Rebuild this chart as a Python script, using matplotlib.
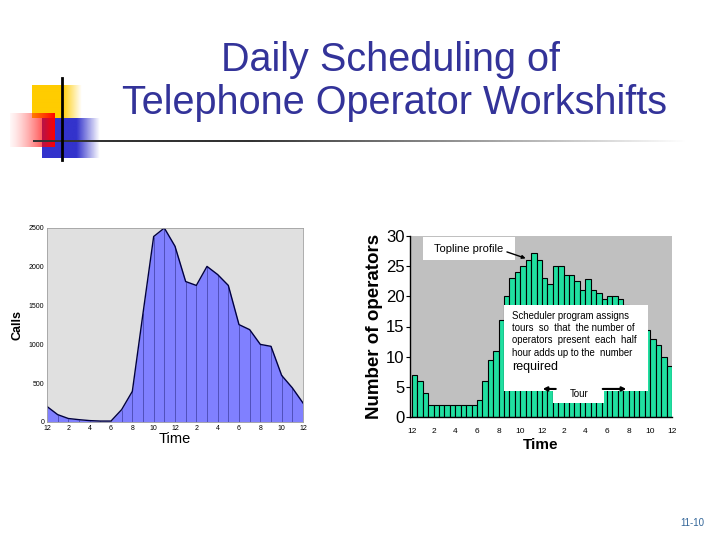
import numpy as np
import matplotlib
matplotlib.use("Agg")
import matplotlib.pyplot as plt
from matplotlib.patches import Rectangle

# left chart: calls per hour (midnight to midnight)
hours = list(range(25))
calls = [200, 95, 45, 30, 18, 12, 12, 160, 395, 1400, 2390, 2500, 2265,
         1810, 1760, 2005, 1900, 1760, 1255, 1190, 1000, 975, 600, 440, 245]
calls_ticks = [0, 500, 1000, 1500, 2000, 2500]

# right chart: operators required each half hour
operators = [7, 6, 4, 2, 2, 2, 2, 2, 2, 2, 2, 2,
             2.8, 6, 9.5, 11, 16, 20, 23, 24, 25, 26, 27.2, 26,
             23, 22, 25, 25, 23.5, 23.5, 22.5, 21, 22.8, 21, 20.5, 19.5,
             20, 20, 19.5, 18.5, 17.5, 16.5, 15.5, 14.5, 13, 12, 10, 8.5]
ops_ticks = [0, 5, 10, 15, 20, 25, 30]

time_labels = ["12", "2", "4", "6", "8", "10", "12", "2", "4", "6", "8", "10", "12"]

title_lines = ["Daily Scheduling of", "Telephone Operator Workshifts"]
box_lines = ["Scheduler program assigns",
             "tours  so  that  the number of",
             "operators  present  each  half",
             "hour adds up to the  number"]

plt.rcParams["font.family"] = ["Liberation Sans", "DejaVu Sans"]

fig = plt.figure(figsize=(7.2, 5.4), dpi=100)
fig.patch.set_facecolor("white")

# background layer in pixel coordinates for the slide decoration
bg = fig.add_axes([0, 0, 1, 1], zorder=0)
bg.set_xlim(0, 720)
bg.set_ylim(540, 0)
bg.axis("off")


def grad_box(ax, rgb, x0, x1, y0, y1, alphas):
    img = np.zeros((1, len(alphas), 4))
    img[0, :, :3] = rgb
    img[0, :, 3] = alphas
    ax.imshow(img, extent=(x0, x1, y1, y0), aspect="auto", interpolation="bilinear")


n = 100
fade = np.clip((1 - np.linspace(0, 1, n)) / 0.4, 0, 1)
grad_box(bg, (1.0, 0.8, 0.0), 32, 82, 85, 118, fade)
grad_box(bg, (0.2, 0.2, 0.8), 42, 100, 118, 158, fade)
grad_box(bg, (1.0, 0.0, 0.0), 10, 55, 113, 147, np.linspace(0.1, 1, n) ** 1.5)
grad_box(bg, (0.2, 0.2, 0.2), 33, 690, 140, 142, np.clip(1.5 * (1 - np.linspace(0, 1, n)), 0, 1))
bg.plot([62, 62], [78, 160], color="black", lw=2)

fig.text(0.542, 1 - 60 / 540, title_lines[0], ha="center", va="center",
         fontsize=28.5, color="#333399")
fig.text(0.548, 1 - 103 / 540, title_lines[1], ha="center", va="center",
         fontsize=28.5, color="#333399")
fig.text(692 / 720, 1 - 523 / 540, "11-10", ha="center", va="center",
         fontsize=7, color="#336699")

# ---- left chart
ax1 = fig.add_axes([47 / 720, 118 / 540, 256 / 720, 194 / 540], zorder=1)
ax1.set_facecolor("#E0E0E0")
ax1.fill_between(hours, calls, color="#8080FF", lw=0)
ax1.vlines(hours[1:-1], 0, calls[1:-1], color="#4848B0", lw=0.6)
ax1.plot(hours, calls, color="#000040", lw=1)
ax1.set_xlim(0, 24)
ax1.set_ylim(0, 2500)
ax1.set_yticks(calls_ticks)
ax1.set_xticks(range(0, 25, 2))
ax1.set_xticklabels(time_labels)
ax1.tick_params(labelsize=5, length=0, pad=2)
for s in ax1.spines.values():
    s.set_color("#A0A0A0")
    s.set_linewidth(0.6)
ax1.set_ylabel("Calls", fontsize=9, fontweight="bold", labelpad=4)
ax1.set_xlabel("Time", fontsize=10.5, labelpad=0)

# ---- right chart
ax2 = fig.add_axes([410 / 720, 123 / 540, 262 / 720, 181 / 540], zorder=1)
ax2.set_facecolor("#C0C0C0")
ax2.bar(np.arange(len(operators)), operators, width=1, align="edge",
        color="#20DFA0", edgecolor="black", lw=0.8)
ax2.set_xlim(-0.35, len(operators))
ax2.set_ylim(0, 30)
ax2.set_yticks(ops_ticks)
ax2.tick_params(axis="y", labelsize=12, length=3, pad=1)
ax2.set_xticks(range(0, 49, 4))
ax2.set_xticklabels(time_labels)
ax2.tick_params(axis="x", labelsize=6, length=0, pad=8)
for side in ["top", "right"]:
    ax2.spines[side].set_visible(False)
ax2.spines["left"].set_linewidth(1)
ax2.spines["bottom"].set_linewidth(1)
ax2.set_ylabel("Number of operators", fontsize=13.5, fontweight="bold", labelpad=2)
ax2.set_xlabel("Time", fontsize=11, fontweight="bold", labelpad=2)

peak = int(np.argmax(operators))
ax2.add_patch(Rectangle((0.05, 0.867), 0.351, 0.127, transform=ax2.transAxes,
                        facecolor="white", edgecolor="none", zorder=5))
ax2.text(0.225, 0.93, "Topline profile", transform=ax2.transAxes, ha="center",
         va="center", fontsize=8, zorder=6)
ax2.annotate("", xy=(peak - 1.0, operators[peak] - 0.9), xycoords="data",
             xytext=(0.37, 0.912), textcoords="axes fraction",
             arrowprops=dict(arrowstyle="-|>", color="black", lw=1,
                             mutation_scale=5, shrinkA=0, shrinkB=0), zorder=7)

ax2.add_patch(Rectangle((0.359, 0.144), 0.549, 0.475, transform=ax2.transAxes,
                        facecolor="white", edgecolor="none", zorder=5))
ax2.add_patch(Rectangle((0.546, 0.077), 0.194, 0.07, transform=ax2.transAxes,
                        facecolor="white", edgecolor="none", zorder=5))
for i, line in enumerate(box_lines):
    ax2.text(0.39, 0.56 - i * 0.068, line, transform=ax2.transAxes,
             ha="left", va="center", fontsize=6.9, zorder=6)
ax2.text(0.39, 0.275, "required", transform=ax2.transAxes, ha="left",
         va="center", fontsize=9, zorder=6)
ax2.text(0.645, 0.125, "Tour", transform=ax2.transAxes, ha="center",
         va="center", fontsize=7, zorder=6)
ax2.annotate("", xy=(0.496, 0.155), xytext=(0.567, 0.155), xycoords="axes fraction",
             arrowprops=dict(arrowstyle="-|>", color="black", lw=1.5,
                             mutation_scale=6), zorder=6)
ax2.annotate("", xy=(0.836, 0.155), xytext=(0.725, 0.155), xycoords="axes fraction",
             arrowprops=dict(arrowstyle="-|>", color="black", lw=1.5,
                             mutation_scale=6), zorder=6)

fig.savefig("out.png", dpi=100)
